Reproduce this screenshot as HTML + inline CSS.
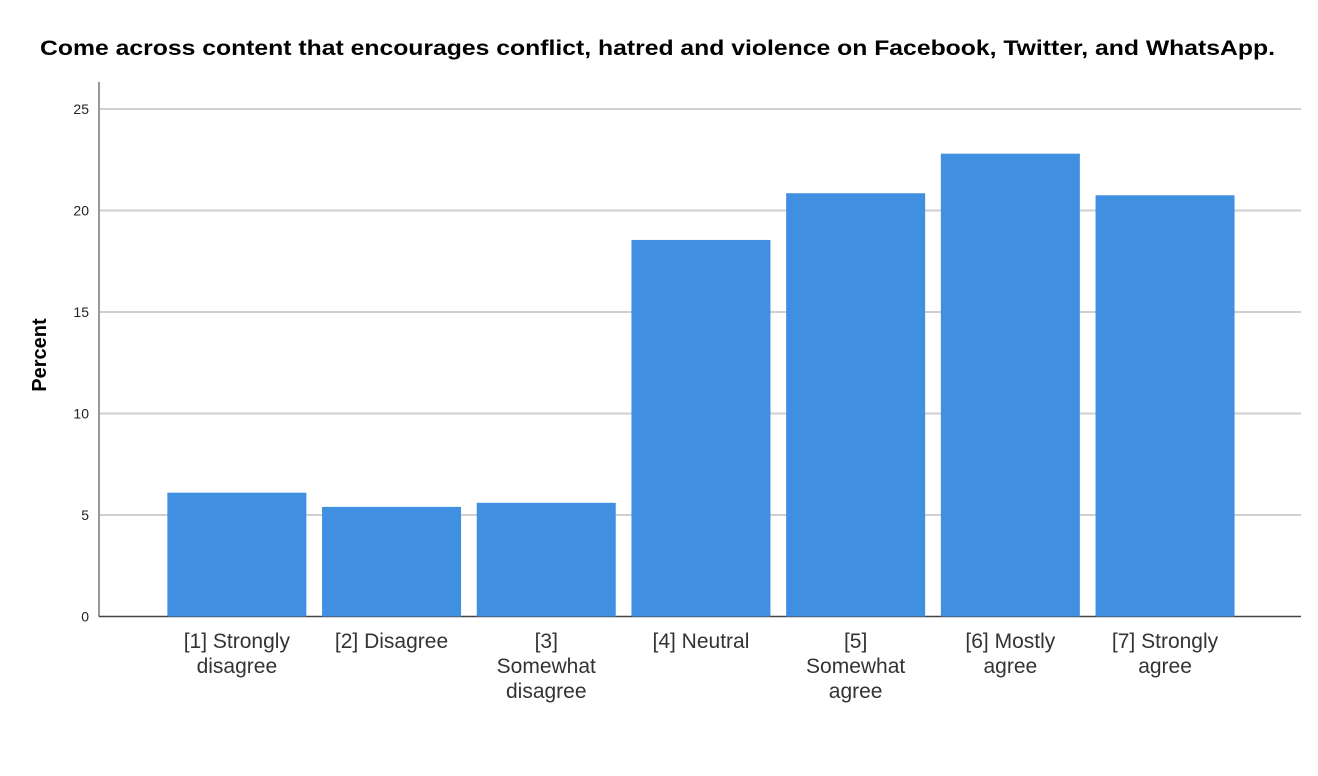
<!DOCTYPE html>
<html><head><meta charset="utf-8"><style>
body{margin:0;background:#fff;}
svg{display:block;font-family:"Liberation Sans",sans-serif;}
</style></head><body>
<svg id="chart" width="1318" height="776" viewBox="0 0 1318 776">
<text x="40" y="55" textLength="1235" lengthAdjust="spacingAndGlyphs" font-size="21" font-weight="bold" fill="#000">Come across content that encourages conflict, hatred and violence on Facebook, Twitter, and WhatsApp.</text>
<text transform="translate(46,355) rotate(-90)" text-anchor="middle" font-size="20" font-weight="bold" fill="#000">Percent</text>
<g id="grid"></g><g id="bars"></g><g id="labels"></g>
</svg>
<script>
const categories=[["[1] Strongly","disagree"],["[2] Disagree"],["[3]","Somewhat","disagree"],["[4] Neutral"],["[5]","Somewhat","agree"],["[6] Mostly","agree"],["[7] Strongly","agree"]];
const values=[6.1,5.4,5.6,18.55,20.85,22.8,20.75];
const yTicks=[0,5,10,15,20,25];
const NS="http://www.w3.org/2000/svg";
const x0=99,x1=1301,y0=616.5,pxPerUnit=(616.5-109)/25,bandStart=159.5,band=154.7,barW=139;
const ys=v=>y0-v*pxPerUnit;
const xs=i=>bandStart+i*band+(band-barW)/2;
function mk(t,a,p){const e=document.createElementNS(NS,t);for(const k in a)e.setAttribute(k,a[k]);p.appendChild(e);return e;}
const grid=document.getElementById('grid'),bars=document.getElementById('bars'),labels=document.getElementById('labels');
yTicks.forEach(t=>{
 if(t>0){const l=mk('line',{x1:x0,x2:x1,y1:ys(t),y2:ys(t),stroke:'#cfcfcf','stroke-width':2},grid);
 
 }
 const tx=mk('text',{x:89,y:ys(t)+5,'text-anchor':'end','font-size':14,fill:'#222'},grid);tx.textContent=t;
 
 
});
const ax=mk('line',{x1:x0,x2:x0,y1:82,y2:y0,stroke:'#999','stroke-width':2},grid);


values.forEach((v,i)=>{
 const r=mk('rect',{x:xs(i),y:ys(v),width:barW,height:y0-ys(v),fill:'#418fe0'},bars);
 
 
 const t=mk('text',{'text-anchor':'middle','font-size':21,fill:'#333'},labels);
 
 
 categories[i].forEach((s,j)=>{const sp=mk('tspan',{x:bandStart+i*band+band/2,y:648+j*25},t);sp.textContent=s;});
});
const xa=mk('line',{x1:x0,x2:x1,y1:y0,y2:y0,stroke:'#444','stroke-width':1.5},grid);


</script>
</body></html>
